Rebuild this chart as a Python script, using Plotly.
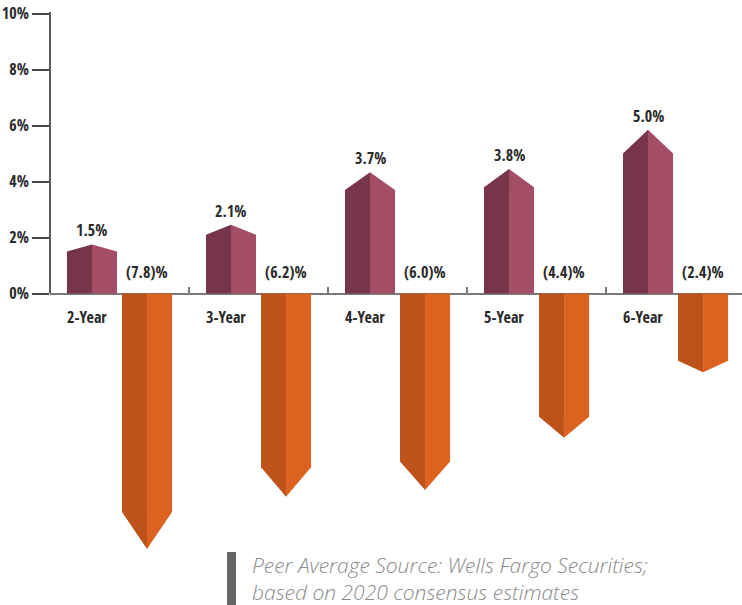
import plotly.graph_objects as go

# ---------------- data ----------------
categories = ["2-Year", "3-Year", "4-Year", "5-Year", "6-Year"]
peer_average = [1.5, 2.1, 3.7, 3.8, 5.0]
company = [-7.8, -6.2, -6.0, -4.4, -2.4]
peer_labels = ["1.5%", "2.1%", "3.7%", "3.8%", "5.0%"]
company_labels = ["(7.8)%", "(6.2)%", "(6.0)%", "(4.4)%", "(2.4)%"]
y_tick_values = [0, 2, 4, 6, 8, 10]
y_tick_labels = ["0%", "2%", "4%", "6%", "8%", "10%"]
footnote_lines = ["Peer Average Source: Wells Fargo Securities;",
                  "based on 2020 consensus estimates"]

# ---------------- style ----------------
POS_DARK, POS_LIGHT = "#773549", "#A34D66"
NEG_DARK, NEG_LIGHT = "#BE521B", "#DC6220"
TIP = 0.17          # arrow tip as a fraction of bar length
BAR_IN, BAR_OUT = 0.018, 0.378
LABEL_FONT = dict(family="Open Sans Condensed", size=16, color="#2a2a2a", weight="bold")

YMIN, YMAX = -9.98, 10.34
XMIN, XMAX = -0.5, 4.478

fig = go.Figure()


def add_arrow_bar(side, i, v, dark, light):
    if side < 0:
        x0, x1 = i - BAR_OUT, i - BAR_IN
    else:
        x0, x1 = i + BAR_IN, i + BAR_OUT
    xc = (x0 + x1) / 2
    tip = v * (1 + TIP)
    fig.add_trace(go.Scatter(x=[x0, x0, xc, xc, x0], y=[0, v, tip, 0, 0],
                             fill="toself", fillcolor=dark, mode="lines",
                             line=dict(width=0, color=dark), hoverinfo="skip",
                             showlegend=False))
    fig.add_trace(go.Scatter(x=[xc, xc, x1, x1, xc], y=[0, tip, v, 0, 0],
                             fill="toself", fillcolor=light, mode="lines",
                             line=dict(width=0, color=light), hoverinfo="skip",
                             showlegend=False))
    return xc, tip


for i, (p, n) in enumerate(zip(peer_average, company)):
    xc_p, tip_p = add_arrow_bar(-1, i, p, POS_DARK, POS_LIGHT)
    xc_n, _ = add_arrow_bar(1, i, n, NEG_DARK, NEG_LIGHT)
    fig.add_annotation(x=xc_p, y=tip_p, text=peer_labels[i], showarrow=False,
                       xanchor="center", yanchor="bottom", yshift=1, font=LABEL_FONT)
    fig.add_annotation(x=xc_n, y=0, text=company_labels[i], showarrow=False,
                       xanchor="center", yanchor="bottom", yshift=9, font=LABEL_FONT)
    fig.add_annotation(x=i - 0.235, y=0, text=categories[i], showarrow=False,
                       xanchor="center", yanchor="top", yshift=-10, font=LABEL_FONT)

# y axis line (only from 0 to 10%)
fig.add_shape(type="line", xref="paper", yref="y", x0=0, x1=0, y0=0, y1=10.05,
              line=dict(color="#333333", width=1.6))

# footnote
fig.add_shape(type="rect", xref="paper", yref="paper",
              x0=(227 - 50) / 692, x1=(236 - 50) / 692,
              y0=(573 - 606) / 569, y1=(573 - 552) / 569,
              fillcolor="#666666", line=dict(width=0))
fig.add_annotation(xref="paper", yref="paper", x=(251 - 50) / 692,
                   y=(573 - 578) / 569, text="<br>".join(footnote_lines),
                   showarrow=False, xanchor="left", yanchor="middle", align="left",
                   borderpad=0,
                   font=dict(family="Open Sans", size=21, color="#8a8a8a",
                             style="italic", weight=300))

fig.update_layout(
    width=742, height=605,
    margin=dict(l=50, r=0, t=4, b=32, autoexpand=False),
    paper_bgcolor="white", plot_bgcolor="white",
    xaxis=dict(range=[XMIN, XMAX], tickvals=[0.5, 1.5, 2.5, 3.5], ticks="inside",
               ticklen=7, tickcolor="#777777", tickwidth=1.5, showticklabels=False,
               showgrid=False, zeroline=False, showline=False, anchor="free",
               position=(0 - YMIN) / (YMAX - YMIN), fixedrange=True, automargin=False),
    yaxis=dict(range=[YMIN, YMAX], tickvals=y_tick_values, ticktext=y_tick_labels,
               ticks="outside", ticklen=17, tickcolor="#444444", tickwidth=1.5,
               tickfont=LABEL_FONT, showgrid=False, zeroline=True,
               zerolinecolor="#7a7a7a", zerolinewidth=2, showline=False,
               fixedrange=True, automargin=False),
)

fig.write_html("out.html", config={"displayModeBar": False},
               post_script="document.body.style.margin='0px';document.body.style.overflow='hidden';")
